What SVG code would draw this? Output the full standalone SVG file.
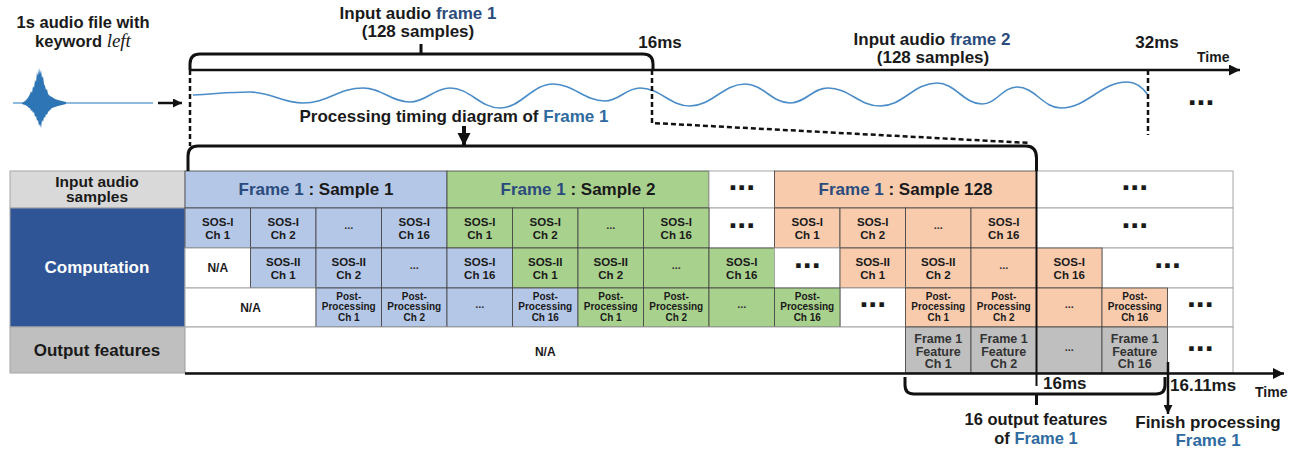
<svg xmlns="http://www.w3.org/2000/svg" width="1306" height="456" viewBox="0 0 1306 456">
<style>
.t{font-family:"Liberation Sans",Arial,sans-serif;font-weight:bold;fill:#1a1a1a;text-anchor:middle}
.st{text-anchor:start}
.lg{font-size:17px}
.md{font-size:16.5px}
.hd{font-size:15.5px}
.tm{font-size:14px}
.c{font-size:11.5px}
.pp{font-size:10px}
.ft{font-size:12.5px}
.na{font-size:12px}
.sd{font-size:11px;fill:#333}
.bd{font-size:32px}
.nv{fill:#2b4b7c}
.mb{fill:#2e6aa0}
.dk{fill:#333}
.w{fill:#ffffff;stroke:#a6a6a6;stroke-width:1}
.b{fill:#b4c7e7;stroke:#404040;stroke-width:0.8}
.g{fill:#a9d18e;stroke:#404040;stroke-width:0.8}
.o{fill:#f8cbad;stroke:#404040;stroke-width:0.8}
.f{fill:#bfbfbf;stroke:#404040;stroke-width:0.8}
.ln{fill:none;stroke:#111;stroke-width:2.5}
.br{fill:none;stroke:#111;stroke-width:3}
.ds{fill:none;stroke:#111;stroke-width:2.5;stroke-dasharray:5 3}
</style>
<defs>
<marker id="ah" viewBox="0 0 10 10" refX="10" refY="5" markerWidth="12" markerHeight="11" markerUnits="userSpaceOnUse" orient="auto"><path d="M0,0 L10,5 L0,10 z" fill="#111"/></marker>
<marker id="ahs" viewBox="0 0 10 10" refX="10" refY="5" markerWidth="9" markerHeight="9" markerUnits="userSpaceOnUse" orient="auto"><path d="M0,0 L10,5 L0,10 z" fill="#111"/></marker>
<marker id="ahb" viewBox="0 0 10 10" refX="10" refY="5" markerWidth="13" markerHeight="16" markerUnits="userSpaceOnUse" orient="auto"><path d="M0,0 L10,5 L0,10 z" fill="#111"/></marker>
</defs>
<rect width="1306" height="456" fill="#fff"/>

<!-- audio icon -->
<g id="audio-icon">
<line x1="13" y1="103" x2="153" y2="103" stroke="#6aa3d6" stroke-width="1.3"/>
<path fill="#2e75b6" d="M22,103 L25,101 L27,99 L29,96 L30,94 L31,91 L32,93 L33,86 L34,88 L35,80 L36,82 L37,72 L38,76 L39,68 L40,74 L41,70 L42,78 L43,76 L44,84 L45,86 L46,90 L47,89 L48,94 L50,96 L52,97 L55,99 L58,100 L62,101 L66,102 L66,104 L62,105 L58,106 L55,107 L52,108 L50,110 L48,112 L47,115 L46,114 L45,118 L44,117 L43,122 L42,120 L41,128 L40,124 L39,126 L38,120 L37,121 L36,116 L35,117 L34,112 L33,113 L32,110 L31,111 L30,108 L29,108 L27,106 L25,105 L22,104 z"/>
<text class="t md" x="83" y="28">1s audio file with</text>
<text class="t md" x="83" y="47">keyword <tspan font-family="Liberation Serif,serif" font-style="italic" font-weight="normal" font-size="19">left</tspan></text>
</g>

<!-- waveform -->
<g id="waveform">
<path fill="none" stroke="#4a8cc8" stroke-width="1.6" d="M193,95 C216,94 227,92 250,92 C271,92 282,103 303,103 C327,103 339,88 363,88 C382,88 391,102 410,102 C426,102 434,88 450,88 C470,88 480,108 500,108 C521,108 532,84 553,84 C574,84 584,101 605,101 C619,101 626,88 640,88 C660,88 670,106 690,106 C712,106 723,84 745,84 C763,84 772,103 790,103 C805,103 813,88 828,88 C849,88 859,106 880,106 C903,106 914,83 937,83 C955,83 964,104 982,104 C996,104 1003,87 1017,87 C1035,87 1043,108 1061,108 C1087,108 1101,82 1127,82 C1136,82 1143,88 1148,95"/>
<text class="t bd" x="1201" y="104.5">...</text>
</g>

<!-- top labels -->
<g id="labels-top">
<text class="t lg" x="418" y="19">Input audio <tspan class="nv">frame 1</tspan></text>
<text class="t lg" x="418" y="37">(128 samples)</text>
<text class="t lg" x="660" y="48">16ms</text>
<text class="t lg" x="932" y="45">Input audio <tspan class="nv">frame 2</tspan></text>
<text class="t lg" x="933" y="63">(128 samples)</text>
<text class="t lg" x="1157" y="48">32ms</text>
<text class="t tm st" x="1197" y="62">Time</text>
<text class="t lg" x="454" y="122">Processing timing diagram of <tspan class="mb">Frame 1</tspan></text>
</g>

<!-- table header column -->
<g id="hdr-input">
<rect x="10" y="171" width="175" height="37" fill="#d9d9d9" stroke="#a6a6a6"/>
<text class="t hd" x="97" y="187">Input audio</text>
<text class="t hd" x="97" y="202">samples</text>
</g>
<g id="hdr-computation">
<rect x="10" y="208" width="175" height="119" fill="#2f5597" stroke="#a6a6a6"/>
<text class="t lg" x="97" y="273" style="fill:#fff">Computation</text>
</g>
<g id="hdr-output">
<rect x="10" y="327" width="175" height="46" fill="#bfbfbf" stroke="#a6a6a6"/>
<text class="t lg" x="97" y="356">Output features</text>
</g>

<!-- row 1: input samples -->
<g id="r1-sample1"><rect class="b" x="185" y="171" width="262" height="37"/><text class="t lg" x="316" y="195"><tspan class="nv">Frame 1</tspan> : Sample 1</text></g>
<g id="r1-sample2"><rect class="g" x="447" y="171" width="262" height="37"/><text class="t lg" x="578" y="195"><tspan class="nv">Frame 1</tspan> : Sample 2</text></g>
<g id="r1-dots"><rect class="w" x="709" y="171" width="65.5" height="37"/><text class="t bd" x="741.75" y="189.5">...</text></g>
<g id="r1-sample128"><rect class="o" x="774.5" y="171" width="262" height="37"/><text class="t lg" x="905.5" y="195"><tspan class="nv">Frame 1</tspan> : Sample 128</text></g>
<g id="r1-dots2"><rect class="w" x="1036.5" y="171" width="196.5" height="37"/><text class="t bd" x="1134.75" y="189.5">...</text></g>

<!-- row 2: SOS-I -->
<g id="r2-white1"><rect class="w" x="709" y="208" width="65.5" height="40"/><text class="t bd" x="741.75" y="227.5">...</text></g>
<g id="r2-white2"><rect class="w" x="1036.5" y="208" width="196.5" height="40"/><text class="t bd" x="1134.75" y="227.5">...</text></g>
<g id="r2-b1"><rect class="b" x="185" y="208" width="65.5" height="40"/><text class="t c" x="217.75" y="225.5">SOS-I</text><text class="t c" x="217.75" y="238.5">Ch 1</text></g>
<g id="r2-b2"><rect class="b" x="250.5" y="208" width="65.5" height="40"/><text class="t c" x="283.25" y="225.5">SOS-I</text><text class="t c" x="283.25" y="238.5">Ch 2</text></g>
<g id="r2-b3"><rect class="b" x="316" y="208" width="65.5" height="40"/><text class="t sd" x="348.75" y="229">...</text></g>
<g id="r2-b4"><rect class="b" x="381.5" y="208" width="65.5" height="40"/><text class="t c" x="414.25" y="225.5">SOS-I</text><text class="t c" x="414.25" y="238.5">Ch 16</text></g>
<g id="r2-g1"><rect class="g" x="447" y="208" width="65.5" height="40"/><text class="t c" x="479.75" y="225.5">SOS-I</text><text class="t c" x="479.75" y="238.5">Ch 1</text></g>
<g id="r2-g2"><rect class="g" x="512.5" y="208" width="65.5" height="40"/><text class="t c" x="545.25" y="225.5">SOS-I</text><text class="t c" x="545.25" y="238.5">Ch 2</text></g>
<g id="r2-g3"><rect class="g" x="578" y="208" width="65.5" height="40"/><text class="t sd" x="610.75" y="229">...</text></g>
<g id="r2-g4"><rect class="g" x="643.5" y="208" width="65.5" height="40"/><text class="t c" x="676.25" y="225.5">SOS-I</text><text class="t c" x="676.25" y="238.5">Ch 16</text></g>
<g id="r2-o1"><rect class="o" x="774.5" y="208" width="65.5" height="40"/><text class="t c" x="807.25" y="225.5">SOS-I</text><text class="t c" x="807.25" y="238.5">Ch 1</text></g>
<g id="r2-o2"><rect class="o" x="840" y="208" width="65.5" height="40"/><text class="t c" x="872.75" y="225.5">SOS-I</text><text class="t c" x="872.75" y="238.5">Ch 2</text></g>
<g id="r2-o3"><rect class="o" x="905.5" y="208" width="65.5" height="40"/><text class="t sd" x="938.25" y="229">...</text></g>
<g id="r2-o4"><rect class="o" x="971" y="208" width="65.5" height="40"/><text class="t c" x="1003.75" y="225.5">SOS-I</text><text class="t c" x="1003.75" y="238.5">Ch 16</text></g>

<!-- row 3: SOS-II -->
<g id="r3-na"><rect class="w" x="185" y="248" width="65.5" height="40"/><text class="t na" x="217.75" y="272">N/A</text></g>
<g id="r3-white2"><rect class="w" x="1102" y="248" width="131" height="40"/><text class="t bd" x="1167.5" y="267.5">...</text></g>
<g id="r3-b1"><rect class="b" x="250.5" y="248" width="65.5" height="40"/><text class="t c" x="283.25" y="265.5">SOS-II</text><text class="t c" x="283.25" y="278.5">Ch 1</text></g>
<g id="r3-b2"><rect class="b" x="316" y="248" width="65.5" height="40"/><text class="t c" x="348.75" y="265.5">SOS-II</text><text class="t c" x="348.75" y="278.5">Ch 2</text></g>
<g id="r3-b3"><rect class="b" x="381.5" y="248" width="65.5" height="40"/><text class="t sd" x="414.25" y="269">...</text></g>
<g id="r3-b4"><rect class="b" x="447" y="248" width="65.5" height="40"/><text class="t c" x="479.75" y="265.5">SOS-I</text><text class="t c" x="479.75" y="278.5">Ch 16</text></g>
<g id="r3-g1"><rect class="g" x="512.5" y="248" width="65.5" height="40"/><text class="t c" x="545.25" y="265.5">SOS-II</text><text class="t c" x="545.25" y="278.5">Ch 1</text></g>
<g id="r3-g2"><rect class="g" x="578" y="248" width="65.5" height="40"/><text class="t c" x="610.75" y="265.5">SOS-II</text><text class="t c" x="610.75" y="278.5">Ch 2</text></g>
<g id="r3-g3"><rect class="g" x="643.5" y="248" width="65.5" height="40"/><text class="t sd" x="676.25" y="269">...</text></g>
<g id="r3-g4"><rect class="g" x="709" y="248" width="65.5" height="40"/><text class="t c" x="741.75" y="265.5">SOS-I</text><text class="t c" x="741.75" y="278.5">Ch 16</text></g>
<g id="r3-white1"><rect class="w" x="774.5" y="248" width="65.5" height="40"/><text class="t bd" x="807.25" y="267.5">...</text></g>
<g id="r3-o1"><rect class="o" x="840" y="248" width="65.5" height="40"/><text class="t c" x="872.75" y="265.5">SOS-II</text><text class="t c" x="872.75" y="278.5">Ch 1</text></g>
<g id="r3-o2"><rect class="o" x="905.5" y="248" width="65.5" height="40"/><text class="t c" x="938.25" y="265.5">SOS-II</text><text class="t c" x="938.25" y="278.5">Ch 2</text></g>
<g id="r3-o3"><rect class="o" x="971" y="248" width="65.5" height="40"/><text class="t sd" x="1003.75" y="269">...</text></g>
<g id="r3-o4"><rect class="o" x="1036.5" y="248" width="65.5" height="40"/><text class="t c" x="1069.25" y="265.5">SOS-I</text><text class="t c" x="1069.25" y="278.5">Ch 16</text></g>

<!-- row 4: post-processing -->
<g id="r4-na"><rect class="w" x="185" y="288" width="131" height="39"/><text class="t na" x="250.5" y="312">N/A</text></g>
<g id="r4-white1"><rect class="w" x="840" y="288" width="65.5" height="39"/><text class="t bd" x="872.75" y="307">...</text></g>
<g id="r4-white2"><rect class="w" x="1167.5" y="288" width="65.5" height="39"/><text class="t bd" x="1200.25" y="307">...</text></g>
<g id="r4-b1"><rect class="b" x="316" y="288" width="65.5" height="39"/><text class="t pp" x="348.75" y="300.3">Post-</text><text class="t pp" x="348.75" y="310.3">Processing</text><text class="t pp" x="348.75" y="320.5">Ch 1</text></g>
<g id="r4-b2"><rect class="b" x="381.5" y="288" width="65.5" height="39"/><text class="t pp" x="414.25" y="300.3">Post-</text><text class="t pp" x="414.25" y="310.3">Processing</text><text class="t pp" x="414.25" y="320.5">Ch 2</text></g>
<g id="r4-b3"><rect class="b" x="447" y="288" width="65.5" height="39"/><text class="t sd" x="479.75" y="308">...</text></g>
<g id="r4-b4"><rect class="b" x="512.5" y="288" width="65.5" height="39"/><text class="t pp" x="545.25" y="300.3">Post-</text><text class="t pp" x="545.25" y="310.3">Processing</text><text class="t pp" x="545.25" y="320.5">Ch 16</text></g>
<g id="r4-g1"><rect class="g" x="578" y="288" width="65.5" height="39"/><text class="t pp" x="610.75" y="300.3">Post-</text><text class="t pp" x="610.75" y="310.3">Processing</text><text class="t pp" x="610.75" y="320.5">Ch 1</text></g>
<g id="r4-g2"><rect class="g" x="643.5" y="288" width="65.5" height="39"/><text class="t pp" x="676.25" y="300.3">Post-</text><text class="t pp" x="676.25" y="310.3">Processing</text><text class="t pp" x="676.25" y="320.5">Ch 2</text></g>
<g id="r4-g3"><rect class="g" x="709" y="288" width="65.5" height="39"/><text class="t sd" x="741.75" y="308">...</text></g>
<g id="r4-g4"><rect class="g" x="774.5" y="288" width="65.5" height="39"/><text class="t pp" x="807.25" y="300.3">Post-</text><text class="t pp" x="807.25" y="310.3">Processing</text><text class="t pp" x="807.25" y="320.5">Ch 16</text></g>
<g id="r4-o1"><rect class="o" x="905.5" y="288" width="65.5" height="39"/><text class="t pp" x="938.25" y="300.3">Post-</text><text class="t pp" x="938.25" y="310.3">Processing</text><text class="t pp" x="938.25" y="320.5">Ch 1</text></g>
<g id="r4-o2"><rect class="o" x="971" y="288" width="65.5" height="39"/><text class="t pp" x="1003.75" y="300.3">Post-</text><text class="t pp" x="1003.75" y="310.3">Processing</text><text class="t pp" x="1003.75" y="320.5">Ch 2</text></g>
<g id="r4-o3"><rect class="o" x="1036.5" y="288" width="65.5" height="39"/><text class="t sd" x="1069.25" y="308">...</text></g>
<g id="r4-o4"><rect class="o" x="1102" y="288" width="65.5" height="39"/><text class="t pp" x="1134.75" y="300.3">Post-</text><text class="t pp" x="1134.75" y="310.3">Processing</text><text class="t pp" x="1134.75" y="320.5">Ch 16</text></g>

<!-- row 5: output features -->
<g id="r5-na"><rect class="w" x="185" y="327" width="720.5" height="46"/><text class="t na" x="545.25" y="356">N/A</text></g>
<g id="r5-white"><rect class="w" x="1167.5" y="327" width="65.5" height="46"/><text class="t bd" x="1200.25" y="350.5">...</text></g>
<g id="r5-f1"><rect class="f" x="905.5" y="327" width="65.5" height="46"/><text class="t ft dk" x="938.25" y="342.5">Frame 1</text><text class="t ft dk" x="938.25" y="355.5">Feature</text><text class="t ft dk" x="938.25" y="368">Ch 1</text></g>
<g id="r5-f2"><rect class="f" x="971" y="327" width="65.5" height="46"/><text class="t ft dk" x="1003.75" y="342.5">Frame 1</text><text class="t ft dk" x="1003.75" y="355.5">Feature</text><text class="t ft dk" x="1003.75" y="368">Ch 2</text></g>
<g id="r5-f3"><rect class="f" x="1036.5" y="327" width="65.5" height="46"/><text class="t sd" x="1069.25" y="351">...</text></g>
<g id="r5-f4"><rect class="f" x="1102" y="327" width="65.5" height="46"/><text class="t ft dk" x="1134.75" y="342.5">Frame 1</text><text class="t ft dk" x="1134.75" y="355.5">Feature</text><text class="t ft dk" x="1134.75" y="368">Ch 16</text></g>

<!-- connectors, axes, brackets -->
<g id="connectors">
<line class="ln" x1="190" y1="70" x2="1240" y2="70" marker-end="url(#ah)"/>
<line class="ln" x1="158" y1="103" x2="182" y2="103" marker-end="url(#ahs)"/>
<path class="br" d="M190,70 L190,64 Q190,54 200,54 L643,54 Q653,54 653,64 L653,70"/>
<line class="br" x1="421" y1="54" x2="421" y2="44"/>
<line class="ds" x1="190" y1="70" x2="190" y2="146"/>
<path class="ds" d="M652,70 L652,123 L1030,143"/>
<line class="ds" x1="1148" y1="70" x2="1148" y2="135"/>
<line x1="464" y1="126" x2="464" y2="146" stroke="#111" stroke-width="4" marker-end="url(#ahb)"/>
<path class="br" d="M188,171 L188,156 Q188,146 198,146 L1026,146 Q1036.5,146 1036.5,158 L1036.5,171"/>
<line x1="1036.5" y1="171" x2="1036.5" y2="386" stroke="#111" stroke-width="2"/>
<line class="ln" x1="185" y1="373.5" x2="1284" y2="373.5" marker-end="url(#ah)"/>
<path class="br" d="M905,377 L905,385 Q905,394 914,394 L1156,394 Q1165,394 1165,385 L1165,377"/>
<line class="br" x1="1036.5" y1="394" x2="1036.5" y2="405"/>
<line x1="1168" y1="362" x2="1168" y2="414" stroke="#111" stroke-width="2.5" marker-end="url(#ahs)"/>
</g>

<!-- bottom labels -->
<g id="labels-bottom">
<text class="t lg st" x="1043" y="389">16ms</text>
<text class="t lg st" x="1170" y="391">16.11ms</text>
<text class="t tm st" x="1255" y="397">Time</text>
<text class="t md" x="1036" y="425">16 output features</text>
<text class="t md" x="1036" y="444">of <tspan class="mb">Frame 1</tspan></text>
<text class="t lg" x="1208" y="428">Finish processing</text>
<text class="t lg mb" x="1208" y="446">Frame 1</text>
</g>
</svg>
